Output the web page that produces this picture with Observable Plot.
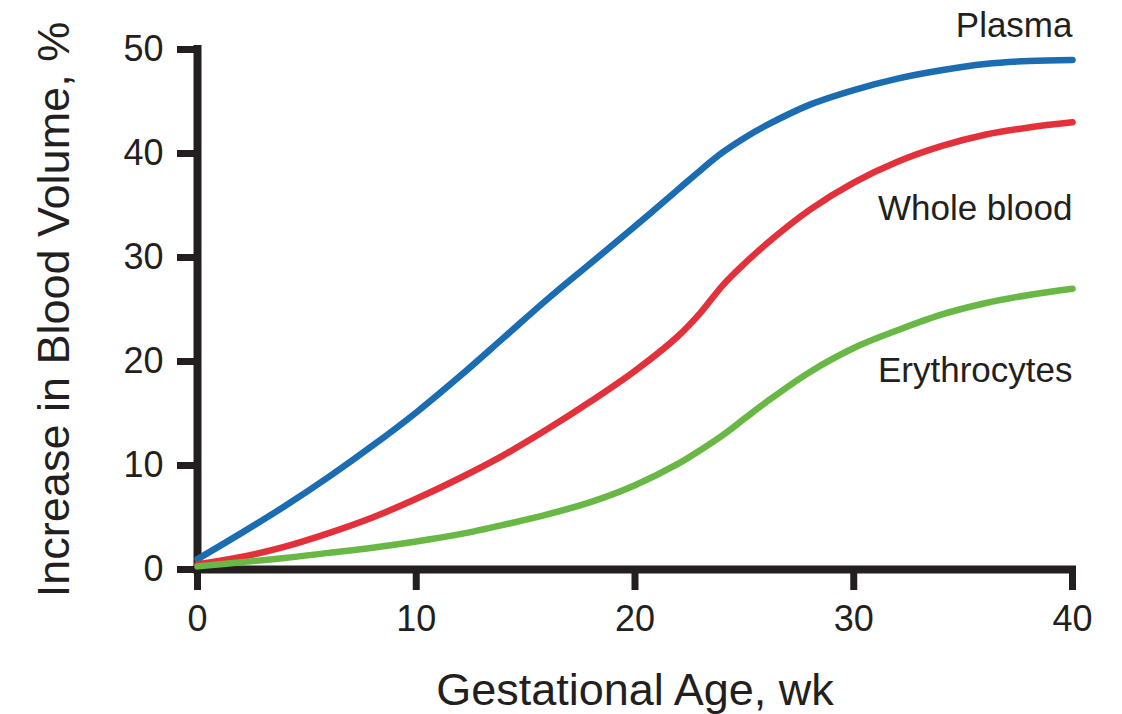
<!DOCTYPE html>
<html>
<head>
<meta charset="utf-8">
<script src="https://cdn.jsdelivr.net/npm/d3@7"></script>
<script src="https://cdn.jsdelivr.net/npm/@observablehq/plot@0.6"></script>
<style>
  html, body { margin: 0; padding: 0; background: #fff; }
  #chart { width: 1122px; height: 714px; }
</style>
</head>
<body>
<div id="chart"></div>
<script>
const weeks        = [0, 2, 4, 6, 8, 10, 12, 14, 16, 18, 20, 22, 23, 24, 25, 26, 28, 30, 32, 34, 36, 38, 40];
const plasma       = [1.0, 3.5, 6.1, 8.9, 11.9, 15.1, 18.6, 22.3, 26.0, 29.5, 33.0, 36.6, 38.4, 40.1, 41.5, 42.7, 44.7, 46.1, 47.2, 48.0, 48.6, 48.9, 49.0];
const wholeBlood   = [0.5, 1.2, 2.2, 3.5, 5.0, 6.8, 8.8, 11.0, 13.5, 16.2, 19.1, 22.5, 24.7, 27.3, 29.4, 31.3, 34.6, 37.2, 39.2, 40.7, 41.8, 42.5, 43.0];
const erythrocytes = [0.3, 0.7, 1.1, 1.6, 2.1, 2.7, 3.4, 4.3, 5.3, 6.5, 8.1, 10.2, 11.5, 12.9, 14.5, 16.1, 19.0, 21.3, 23.0, 24.5, 25.6, 26.4, 27.0];
const seriesNames  = ["Plasma", "Whole blood", "Erythrocytes"];
const seriesColors = ["#1b6cb1", "#e3313b", "#69b845"];
const labelY       = [51.2, 33.6, 18.0];
const xTicks = [0, 10, 20, 30, 40];
const yTicks = [0, 10, 20, 30, 40, 50];
const xTitle = "Gestational Age, wk";
const yTitle = "Increase in Blood Volume, %";

const seriesValues = [plasma, wholeBlood, erythrocytes];
const rows = [];
seriesNames.forEach((name, s) => {
  weeks.forEach((w, i) => rows.push({series: name, week: w, value: seriesValues[s][i]}));
});
const labels = seriesNames.map((name, s) => ({series: name, week: 40, value: labelY[s]}));

const ink = "#231f20";
const chart = Plot.plot({
  width: 1122,
  height: 714,
  marginLeft: 197,
  marginRight: 50,
  marginTop: 49,
  marginBottom: 145,
  style: {fontFamily: "'Liberation Sans', Arial, Helvetica, sans-serif", color: ink, background: "#fff"},
  x: {domain: [0, 40]},
  y: {domain: [0, 50]},
  color: {domain: seriesNames, range: seriesColors},
  marks: [
    Plot.axisX({ticks: xTicks, tickSize: 21, tickPadding: 15, strokeWidth: 7, stroke: ink, fill: ink, fontSize: 36, label: null}),
    Plot.axisY({ticks: yTicks, tickSize: 20, tickPadding: 14, strokeWidth: 7, stroke: ink, fill: ink, fontSize: 36, label: null}),
    Plot.ruleX([0], {stroke: ink, strokeWidth: 8, strokeLinecap: "square"}),
    Plot.ruleY([0], {stroke: ink, strokeWidth: 8, strokeLinecap: "square"}),
    Plot.line(rows, {x: "week", y: "value", z: "series", stroke: "series", strokeWidth: 6.5, curve: "catmull-rom", strokeLinecap: "round"}),
    Plot.text(labels, {x: "week", y: "value", text: "series", textAnchor: "end", lineAnchor: "bottom", fontSize: 35, fill: ink}),
    Plot.text([xTitle], {frameAnchor: "bottom", textAnchor: "middle", lineAnchor: "bottom", dy: 135, fontSize: 45, fill: ink}),
    Plot.text([yTitle], {frameAnchor: "left", textAnchor: "middle", lineAnchor: "bottom", rotate: -90, dx: -129, fontSize: 45, fill: ink})
  ]
});
document.getElementById("chart").appendChild(chart);
</script>
</body>
</html>
